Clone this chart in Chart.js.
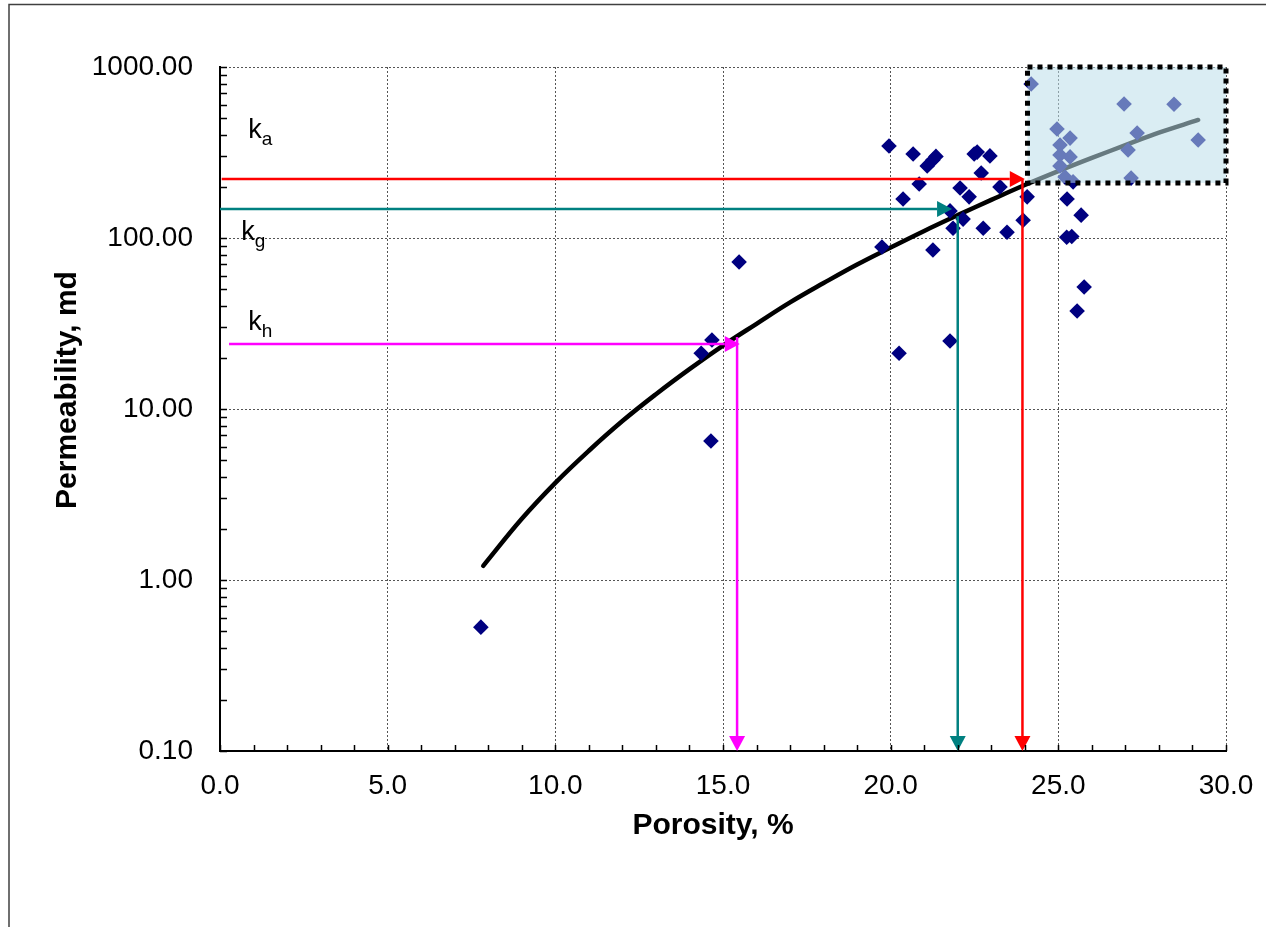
<!DOCTYPE html>
<html>
<head>
<meta charset="utf-8">
<title>Permeability vs Porosity</title>
<script src="https://cdn.jsdelivr.net/npm/chart.js@4.4.1/dist/chart.umd.min.js"></script>
<style>
  body { margin: 0; background: #fff; }
  #wrap { position: relative; width: 1266px; height: 927px; }
</style>
</head>
<body>
<div id="wrap"><canvas id="chart" width="1266" height="927"></canvas></div>
<script>
// core samples
const porosity = [7.78, 14.64, 14.35, 14.67, 15.48, 19.74, 19.95, 20.37, 20.25, 20.67,
  20.85, 21.09, 21.26, 21.35, 21.26, 21.77, 21.86, 21.77, 22.07, 22.16,
  22.34, 22.49, 22.58, 22.70, 22.76, 23.47, 22.96, 23.26, 23.95, 24.07,
  24.19, 24.96, 25.35, 25.05, 25.05, 25.35, 25.05, 25.20, 25.44, 26.96,
  28.45, 27.35, 27.08, 27.17, 29.17, 25.26, 25.68, 25.25, 25.40, 25.77, 25.56];
const permeability = [0.53, 6.5, 21.2, 25.3, 72.4, 88.6, 345, 169, 21.2, 310,
  207, 264, 286, 300, 85, 144, 114, 25, 196, 129,
  174, 310, 318, 240, 114, 108, 302, 199, 127, 174,
  795, 434, 384, 350, 306, 298, 264, 227, 213, 608,
  605, 411, 327, 224, 374, 169, 136, 101, 102, 51.7, 37.4];

// trend curve
const curvePorosity = [7.85, 9, 10, 11, 12, 13, 14, 15, 16, 17, 18, 19, 20, 21, 22, 23, 24, 25, 26, 27, 28, 29.17];
const curvePerm = [1.21, 2.28, 3.7, 5.7, 8.5, 12.2, 17.1, 23.5, 31.5, 42, 54.5, 70, 88, 110, 136, 167, 204, 246, 294, 349, 413, 490];

// arrows: list of segments [x1, y1, x2, y2], head at the end of each
const arrowKa = [[0.05, 221, 24.0, 221], [23.93, 221, 23.93, 0.1]];
const arrowKg = [[0.0, 148, 21.83, 148], [22.0, 134, 22.0, 0.1]];
const arrowKh = [[0.27, 24.0, 15.5, 24.0], [15.42, 26.4, 15.42, 0.1]];

// highlighted area (x from, x to, y from, y to)
const boxRange = [24.08, 30, 210, 1000];

// k labels: text, subscript, x, y (baseline)
const kLabels = [['k', 'a', 0.84, 385], ['k', 'g', 0.63, 97], ['k', 'h', 0.84, 29]];

const xTitle = 'Porosity, %';
const yTitle = 'Permeability, md';
const xTickMax = 30;
const yTickLabels = ['0.10', '1.00', '10.00', '100.00', '1000.00'];

const FONT = '"Liberation Sans", Arial, sans-serif';

function isDecade(v) {
    const l = Math.log10(v);
    return Math.abs(l - Math.round(l)) < 1e-9;
}

document.addEventListener('DOMContentLoaded', function() {

    const scatterData = porosity.map((x, i) => ({x: x, y: permeability[i]}));
    const curveData = curvePorosity.map((x, i) => ({x: x, y: curvePerm[i]}));

    const framePlugin = {
        id: 'frame',
        beforeDraw(chart) {
            const ctx = chart.ctx;
            ctx.save();
            ctx.strokeStyle = '#404040';
            ctx.lineWidth = 1.5;
            ctx.beginPath();
            ctx.moveTo(9, 927);
            ctx.lineTo(9, 4.5);
            ctx.lineTo(1266, 4.5);
            ctx.stroke();
            ctx.restore();
        }
    };

    function drawArrow(ctx, xs, ys, seg, color) {
        const x1 = xs.getPixelForValue(seg[0]), y1 = ys.getPixelForValue(seg[1]);
        const x2 = xs.getPixelForValue(seg[2]), y2 = ys.getPixelForValue(seg[3]);
        const ang = Math.atan2(y2 - y1, x2 - x1);
        const len = 15, half = 8;
        const bx = x2 - Math.cos(ang) * len, by = y2 - Math.sin(ang) * len;
        ctx.strokeStyle = color;
        ctx.fillStyle = color;
        ctx.lineWidth = 2.5;
        ctx.beginPath();
        ctx.moveTo(x1, y1);
        ctx.lineTo(bx, by);
        ctx.stroke();
        ctx.beginPath();
        ctx.moveTo(x2, y2);
        ctx.lineTo(bx - Math.sin(ang) * half, by + Math.cos(ang) * half);
        ctx.lineTo(bx + Math.sin(ang) * half, by - Math.cos(ang) * half);
        ctx.closePath();
        ctx.fill();
    }

    const overlayPlugin = {
        id: 'overlay',
        afterDatasetsDraw(chart) {
            const ctx = chart.ctx;
            const xs = chart.scales.x, ys = chart.scales.y;
            ctx.save();

            arrowKa.forEach(s => drawArrow(ctx, xs, ys, s, '#FF0000'));
            arrowKg.forEach(s => drawArrow(ctx, xs, ys, s, '#008080'));
            arrowKh.forEach(s => drawArrow(ctx, xs, ys, s, '#FF00FF'));

            // shaded box
            const bx1 = xs.getPixelForValue(boxRange[0]), bx2 = xs.getPixelForValue(boxRange[1]);
            const by1 = ys.getPixelForValue(boxRange[3]), by2 = ys.getPixelForValue(boxRange[2]);
            ctx.fillStyle = 'rgba(187, 222, 234, 0.55)';
            ctx.fillRect(bx1, by1, bx2 - bx1, by2 - by1);
            ctx.strokeStyle = '#000';
            ctx.lineWidth = 5;
            ctx.setLineDash([5, 5]);
            ctx.strokeRect(bx1, by1, bx2 - bx1, by2 - by1);
            ctx.setLineDash([]);

            // k labels
            ctx.fillStyle = '#000';
            ctx.textBaseline = 'alphabetic';
            ctx.textAlign = 'left';
            kLabels.forEach(l => {
                const px = xs.getPixelForValue(l[2]), py = ys.getPixelForValue(l[3]);
                ctx.font = '27px ' + FONT;
                ctx.fillText(l[0], px, py);
                const w = ctx.measureText(l[0]).width;
                ctx.font = '19px ' + FONT;
                ctx.fillText(l[1], px + w, py + 7);
            });
            ctx.restore();
        },
        afterDraw(chart) {
            const ctx = chart.ctx;
            const xs = chart.scales.x, ys = chart.scales.y;
            const a = chart.chartArea;
            ctx.save();
            // tick marks inside the plot
            ctx.strokeStyle = '#000';
            ctx.lineWidth = 1.5;
            ctx.beginPath();
            xs.ticks.forEach(t => {
                const px = Math.round(xs.getPixelForValue(t.value)) + 0.5;
                ctx.moveTo(px, a.bottom);
                ctx.lineTo(px, a.bottom - 6);
            });
            ys.ticks.forEach(t => {
                const py = Math.round(ys.getPixelForValue(t.value)) + 0.5;
                ctx.moveTo(a.left, py);
                ctx.lineTo(a.left + 7, py);
            });
            ctx.stroke();

            // axis titles
            ctx.fillStyle = '#000';
            ctx.font = 'bold 30px ' + FONT;
            ctx.textAlign = 'center';
            ctx.textBaseline = 'middle';
            ctx.fillText(xTitle, 713, 826);
            ctx.translate(68, 390);
            ctx.rotate(-Math.PI / 2);
            ctx.fillText(yTitle, 0, 0);
            ctx.restore();
        }
    };

    const ctx = document.getElementById('chart').getContext('2d');
    new Chart(ctx, {
        type: 'scatter',
        data: {
            datasets: [{
                label: 'Core data',
                data: scatterData,
                pointStyle: 'rectRot',
                pointRadius: 7.8,
                pointHoverRadius: 7.8,
                backgroundColor: '#000080',
                borderColor: '#000080',
                borderWidth: 0,
                order: 1
            }, {
                label: 'Trend',
                data: curveData,
                showLine: true,
                pointRadius: 0,
                borderColor: '#000',
                borderWidth: 4.5,
                borderCapStyle: 'round',
                tension: 0.4,
                order: 2
            }]
        },
        options: {
            responsive: false,
            devicePixelRatio: 1,
            animation: false,
            layout: { padding: { left: 0, top: 67, right: 40, bottom: 0 } },
            plugins: {
                legend: { display: false },
                tooltip: { enabled: false }
            },
            scales: {
                x: {
                    type: 'linear',
                    min: 0,
                    max: xTickMax,
                    afterFit: s => { s.height = 176; s.paddingLeft = 0; s.paddingRight = 0; },
                    ticks: {
                        stepSize: 1,
                        autoSkip: false,
                        maxRotation: 0,
                        padding: 18,
                        color: '#000',
                        font: { family: FONT, size: 28 },
                        callback: v => (v % 5 === 0 ? v.toFixed(1) : '')
                    },
                    grid: {
                        drawTicks: false,
                        color: c => (c.tick && c.tick.value % 5 === 0 && c.tick.value !== 0 ? '#555' : 'rgba(0,0,0,0)'),
                        lineWidth: 1
                    },
                    border: { display: true, color: '#000', width: 2, dash: [2, 2] }
                },
                y: {
                    type: 'logarithmic',
                    min: 0.1,
                    max: 1000,
                    afterFit: s => { s.width = 220; s.paddingTop = 0; s.paddingBottom = 0; },
                    afterBuildTicks: s => {
                        const t = [];
                        for (let e = -1; e < 3; e++) {
                            for (let m = 1; m < 10; m++) t.push({value: +(m * Math.pow(10, e)).toPrecision(3)});
                        }
                        t.push({value: 1000});
                        s.ticks = t;
                    },
                    ticks: {
                        autoSkip: false,
                        padding: 27,
                        color: '#000',
                        font: { family: FONT, size: 28 },
                        callback: v => {
                            if (!isDecade(v)) return '';
                            return yTickLabels[Math.round(Math.log10(v)) + 1];
                        }
                    },
                    grid: {
                        drawTicks: false,
                        color: c => (c.tick && isDecade(c.tick.value) && c.tick.value > 0.1 ? '#555' : 'rgba(0,0,0,0)'),
                        lineWidth: 1
                    },
                    border: { display: true, color: '#000', width: 2, dash: [2, 2] }
                }
            }
        },
        plugins: [framePlugin, overlayPlugin]
    });
});
</script>
</body>
</html>
